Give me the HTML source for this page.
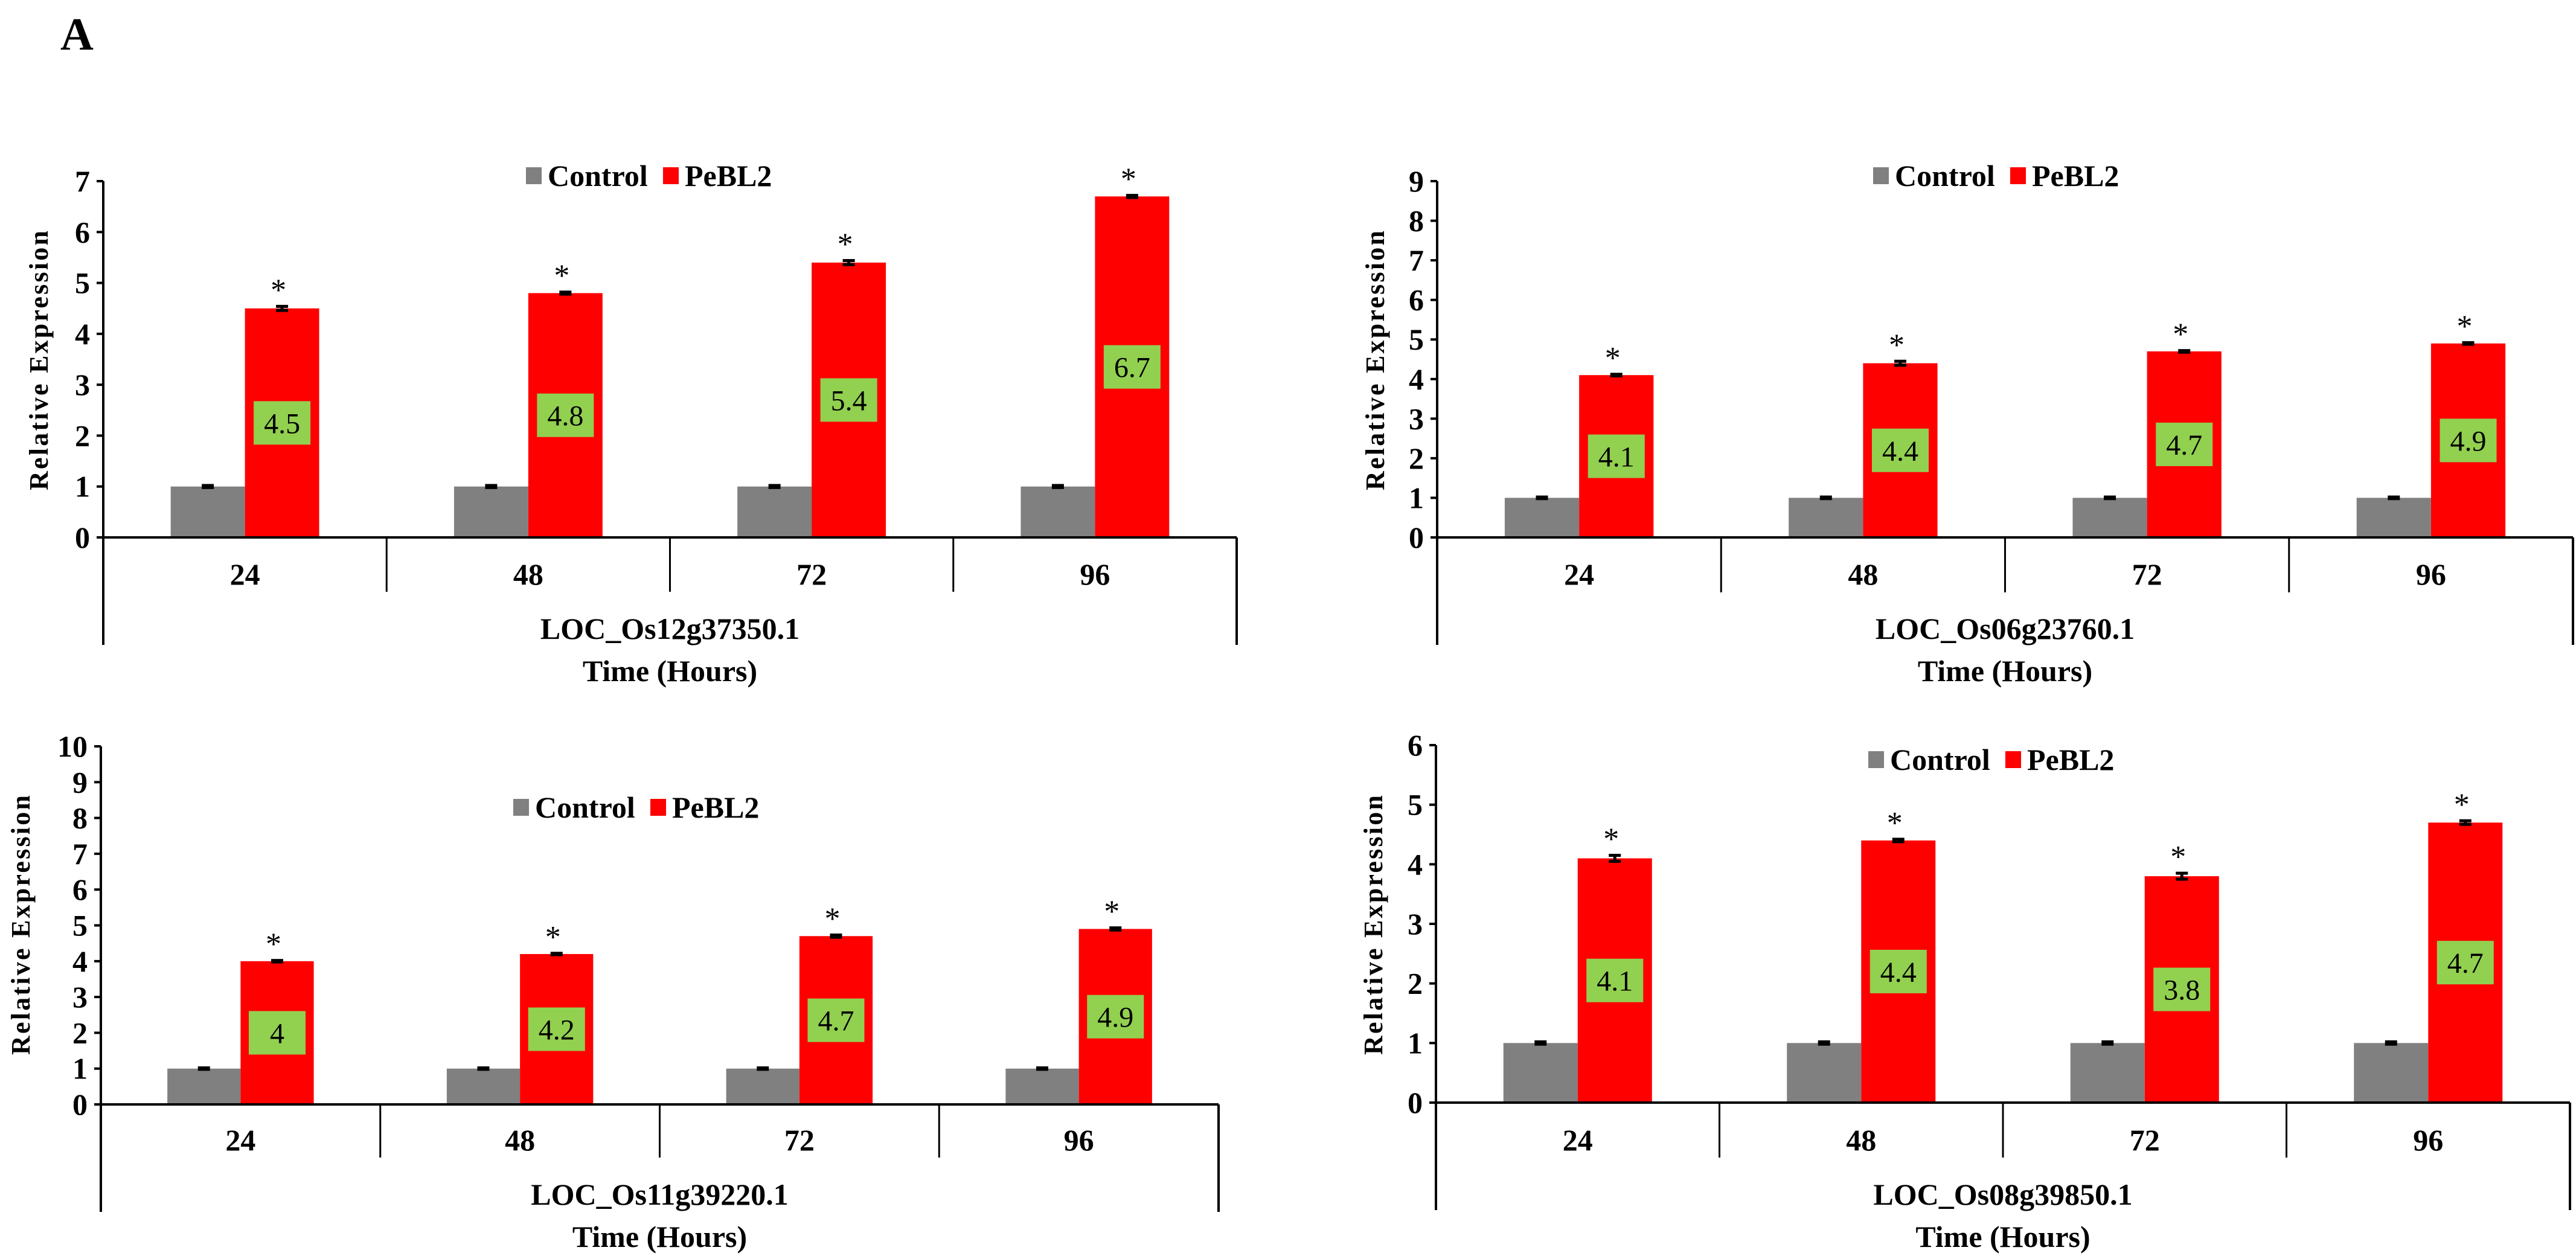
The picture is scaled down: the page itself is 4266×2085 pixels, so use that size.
<!DOCTYPE html>
<html><head><meta charset="utf-8"><style>
html,body{margin:0;padding:0;background:#fff;}
svg{display:block;font-family:"Liberation Serif",serif;}
</style></head><body>
<svg id="fig" width="4266" height="2085" viewBox="0 0 4266 2085" xmlns="http://www.w3.org/2000/svg">
<text x="100" y="82" font-size="76" font-weight="bold">A</text>
</svg>
<script>
const categories = ["24","48","72","96"];
const genes = ["LOC_Os12g37350.1","LOC_Os06g23760.1","LOC_Os11g39220.1","LOC_Os08g39850.1"];
const controlValues = [[1,1,1,1],[1,1,1,1],[1,1,1,1],[1,1,1,1]];
const pebl2Values = [[4.5,4.8,5.4,6.7],[4.1,4.4,4.7,4.9],[4.0,4.2,4.7,4.9],[4.1,4.4,3.8,4.7]];
const pebl2Labels = [["4.5","4.8","5.4","6.7"],["4.1","4.4","4.7","4.9"],["4","4.2","4.7","4.9"],["4.1","4.4","3.8","4.7"]];
const controlErr = [[0.02,0.02,0.02,0.02],[0.02,0.02,0.02,0.02],[0.02,0.02,0.02,0.02],[0.02,0.02,0.02,0.02]];
const pebl2Err = [[0.04,0.02,0.04,0.02],[0.02,0.05,0.02,0.02],[0.02,0.02,0.03,0.03],[0.05,0.02,0.05,0.03]];
const yMaxes = [7,9,10,6];

const layouts = [
 {ax:171, right:2048, y0:890, yTop:300, divB:980, outB:1068, catY:968, geneY:1058, timeY:1128, legY:291, legX:871, titleX:64, titleY:597},
 {ax:2380, right:4261, y0:890, yTop:300, divB:981, outB:1068, catY:968, geneY:1058, timeY:1128, legY:291, legX:3102, titleX:2277, titleY:597},
 {ax:167, right:2018, y0:1829, yTop:1236, divB:1917, outB:2007, catY:1905, geneY:1995, timeY:2065, legY:1337, legX:850, titleX:34, titleY:1532},
 {ax:2378, right:4256, y0:1826, yTop:1234, divB:1917, outB:2004, catY:1905, geneY:1995, timeY:2065, legY:1258, legX:3094, titleX:2274, titleY:1532}
];
const NS = "http://www.w3.org/2000/svg";
const svg = document.getElementById("fig");
function mk(tag, attrs, parent, text){
  const e = document.createElementNS(NS, tag);
  for (const k in attrs) e.setAttribute(k, attrs[k]);
  if (text !== undefined) e.textContent = text;
  parent.appendChild(e);
  return e;
}
layouts.forEach((L, c) => {
  const g = mk("g", {}, svg);
  
  
  const yMax = yMaxes[c];
  const ys = v => L.y0 - v * (L.y0 - L.yTop) / yMax;
  const W = (L.right - L.ax) / categories.length;
  const xs = i => L.ax + i * W;
  for (let t = 0; t <= yMax; t++) {
    const tk = mk("line", {x1:L.ax-11, x2:L.ax, y1:ys(t), y2:ys(t), stroke:"#000","stroke-width":4}, g);
    
    
    const tl = mk("text", {x:L.ax-22, y:ys(t)+17, "text-anchor":"end","font-size":50,"font-weight":"bold"}, g, String(t));
    
    
  }
  categories.forEach((cat, i) => {
    const bx = xs(i) + 0.238 * W, bw = 0.262 * W;
    const cv = controlValues[c][i], pv = pebl2Values[c][i];
    const cb = mk("rect", {x:bx, y:ys(cv), width:bw, height:L.y0-ys(cv), fill:"#808080"}, g);
    
    
    const pb = mk("rect", {x:bx+bw, y:ys(pv), width:bw, height:L.y0-ys(pv), fill:"#ff0000"}, g);
    
    
    [[bx+bw/2, cv, controlErr[c][i]], [bx+1.5*bw, pv, pebl2Err[c][i]]].forEach(([cx, v, e]) => {
      const eb = mk("path", {d:`M${cx-10},${ys(v+e)}H${cx+10}M${cx},${ys(v+e)}V${ys(v-e)}M${cx-10},${ys(v-e)}H${cx+10}`, stroke:"#000","stroke-width":5,fill:"none"}, g);
      
      
    });
    const as = mk("text", {x:bx+1.5*bw-6, y:ys(pv+pebl2Err[c][i])-10, "text-anchor":"middle","font-size":52}, g, "*");
    
    
    const mid = ys(pv/2);
    const lb = mk("rect", {x:bx+1.5*bw-47, y:mid-36, width:94, height:72, fill:"#92d050"}, g);
    
    
    const lt = mk("text", {x:bx+1.5*bw, y:mid+17, "text-anchor":"middle","font-size":48}, g, pebl2Labels[c][i]);
    
    
    const cl = mk("text", {x:xs(i)+W/2, y:L.catY, "text-anchor":"middle","font-size":50,"font-weight":"bold"}, g, cat);
    
    
    if (i > 0) {
      const dv = mk("line", {x1:xs(i), x2:xs(i), y1:L.y0, y2:L.divB, stroke:"#000","stroke-width":3}, g);
      
      
    }
  });
  const axes = mk("path", {d:`M${L.ax},${L.yTop}V${L.outB}M${L.right},${L.y0}V${L.outB}M${L.ax},${L.y0}H${L.right}`, stroke:"#000","stroke-width":4,fill:"none"}, g);
  
  
  const gl = mk("text", {x:(L.ax+L.right)/2, y:L.geneY, "text-anchor":"middle","font-size":50,"font-weight":"bold"}, g, genes[c]);
  
  
  const xt = mk("text", {x:(L.ax+L.right)/2, y:L.timeY, "text-anchor":"middle","font-size":50,"font-weight":"bold"}, g, "Time (Hours)");
  
  
  const yt = mk("text", {x:0, y:0, transform:`translate(${L.titleX+15},${L.titleY}) rotate(-90)`, "text-anchor":"middle","font-size":44,"font-weight":"bold", textLength:430, lengthAdjust:"spacing"}, g, "Relative Expression");
  
  
  const lg = mk("g", {}, g);
  
  
  const s1 = mk("rect", {x:L.legX, y:L.legY-14, width:26, height:28, fill:"#808080"}, lg);
  
  
  const t1 = mk("text", {x:L.legX+36, y:L.legY+17, "font-size":50,"font-weight":"bold"}, lg, "Control");
  
  
  const s2 = mk("rect", {x:L.legX+227, y:L.legY-14, width:26, height:28, fill:"#ff0000"}, lg);
  
  
  const t2 = mk("text", {x:L.legX+263, y:L.legY+17, "font-size":50,"font-weight":"bold"}, lg, "PeBL2");
  
  
});
</script>
</body></html>
